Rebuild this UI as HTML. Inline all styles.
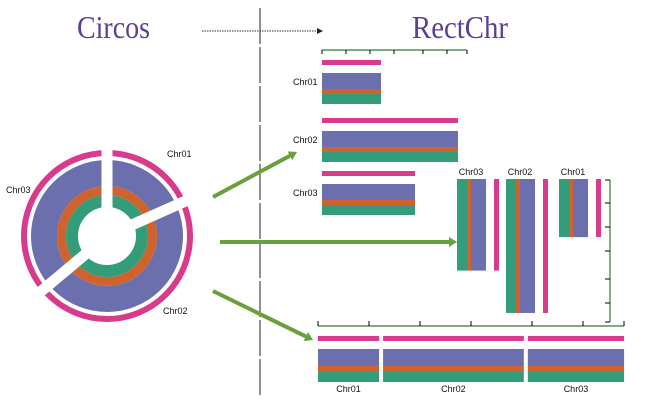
<!DOCTYPE html>
<html><head><meta charset="utf-8"><style>
body{margin:0;background:#fff;width:653px;height:411px;overflow:hidden}
svg{display:block}
text{font-family:"Liberation Sans",sans-serif;font-size:9px;fill:#111}
.t{font-family:"Liberation Serif",serif;font-size:32px;fill:#5b3f97}
</style></head><body>
<svg id="c" width="653" height="411" viewBox="0 0 653 411">
<text class="t" x="77" y="38" textLength="73" lengthAdjust="spacingAndGlyphs">Circos</text>
<text class="t" x="412" y="38" textLength="96" lengthAdjust="spacingAndGlyphs">RectChr</text>
<line x1="202" y1="31" x2="318" y2="31" stroke="#333" stroke-width="1" stroke-dasharray="1.5,1"/>
<path d="M317,28 L323,31 L317,34 Z" fill="#222"/>
<line x1="260" y1="8" x2="260" y2="396" stroke="#222" stroke-width="1" stroke-dasharray="36,3"/>
<g id="g"></g>
</svg>
<script>
const chrNames=["Chr01","Chr02","Chr03"];
const chrLen=[59,136,93];
const C={pink:"#d83a8c",purple:"#6c6fad",orange:"#d0622e",green:"#339c7b",axis:"#2e7d32",arrow:"#6a9f3e"};
const g=document.getElementById('g');
const NS="http://www.w3.org/2000/svg";
function el(t,a){const e=document.createElementNS(NS,t);for(const k in a)e.setAttribute(k,a[k]);g.appendChild(e);return e;}
function rect(x,y,w,h,f,name){const r=el('rect',{x,y,width:w,height:h,fill:f});

return r;}
function txt(x,y,s,name,anchor){const t=el('text',{x,y,'text-anchor':anchor||'start'});t.textContent=s;

return t;}
function line(x1,y1,x2,y2,c,w,name){const l=el('line',{x1,y1,x2,y2,stroke:c,'stroke-width':w});

return l;}
// circos
const cx=107,cy=236;
function ring(r,w,c,name){const e=el('circle',{cx,cy,r,fill:'none',stroke:c,'stroke-width':w});

}
ring(83,6,C.pink,'circos-outer-pink-ring');
ring(63,26,C.purple,'circos-purple-ring');
ring(45.5,9,C.orange,'circos-orange-ring');
ring(35,12,C.green,'circos-green-ring');
[90,24,220].forEach((a,i)=>{const r=a*Math.PI/180;
line(cx,cy,cx+95*Math.cos(r),cy-95*Math.sin(r),'#fff',11,'circos-gap-'+(i+1));});
txt(167,157,'Chr01','circos-label-chr01');txt(163,314,'Chr02','circos-label-chr02');txt(6,193,'Chr03','circos-label-chr03');
// arrows
[[213,197,297,152],[220,242,457,242],[213,291,313,340]].forEach((p,i)=>{
const a=Math.atan2(p[3]-p[1],p[2]-p[0]);const L=8;
line(p[0],p[1],p[2]-L*Math.cos(a),p[3]-L*Math.sin(a),C.arrow,4,'green-arrow-'+(i+1));
const hx=p[2],hy=p[3],bx=hx-L*Math.cos(a),by=hy-L*Math.sin(a);
const e=el('path',{d:`M${hx},${hy} L${bx+5*Math.sin(a)},${by-5*Math.cos(a)} L${bx-5*Math.sin(a)},${by+5*Math.cos(a)} Z`,fill:C.arrow});

});
// horizontal layout
const hs=1.0,hx0=322,hy=[60,118,171];
line(322,50,467,50,C.axis,1.2,'top-x-axis');
[322,346,370,394,423,447,467].forEach((x,i)=>line(x,50,x,54,'#000',1,'top-tick-'+i));
chrLen.forEach((L,i)=>{const w=L*hs,y=hy[i];
rect(hx0,y,w,5,C.pink,'h-pink-'+chrNames[i]);
rect(hx0,y+13,w,16,C.purple,'h-purple-'+chrNames[i]);
rect(hx0,y+29,w,5,C.orange,'h-orange-'+chrNames[i]);
rect(hx0,y+34,w,10,C.green,'h-green-'+chrNames[i]);
txt(293,y+25,chrNames[i],'h-label-'+chrNames[i]);});
// vertical layout
const vx={Chr03:457,Chr02:506,Chr01:559},vs=0.985;
line(610,180,610,322,C.axis,1.2,'right-y-axis');
[180,203,227,251,279,303,322].forEach((y,i)=>line(605,y,610,y,'#000',1,'right-tick-'+i));
chrNames.forEach((n,i)=>{const x=vx[n],h=chrLen[i]*vs;
rect(x,179,10,h,C.green,'v-green-'+n);
rect(x+10,179,4,h,C.orange,'v-orange-'+n);
rect(x+14,179,15,h,C.purple,'v-purple-'+n);
rect(x+37,179,5,h,C.pink,'v-pink-'+n);
txt(x+14,175,n,'v-label-'+n,'middle');});
// bottom layout
const bs=1.035;
line(318,326,624,326,C.axis,1.2,'bottom-x-axis');
[318,369,420,471,532,583,624].forEach((x,i)=>line(x,321,x,326,'#000',1,'bottom-tick-'+i));
let bx=318;
chrNames.forEach((n,i)=>{const w=chrLen[i]*bs;
rect(bx,336,w,5,C.pink,'b-pink-'+n);
rect(bx,349,w,17,C.purple,'b-purple-'+n);
rect(bx,366,w,5,C.orange,'b-orange-'+n);
rect(bx,371,w,11,C.green,'b-green-'+n);
txt(bx+w/2,392,n,'b-label-'+n,'middle');bx+=w+4;});
</script>
</body></html>
